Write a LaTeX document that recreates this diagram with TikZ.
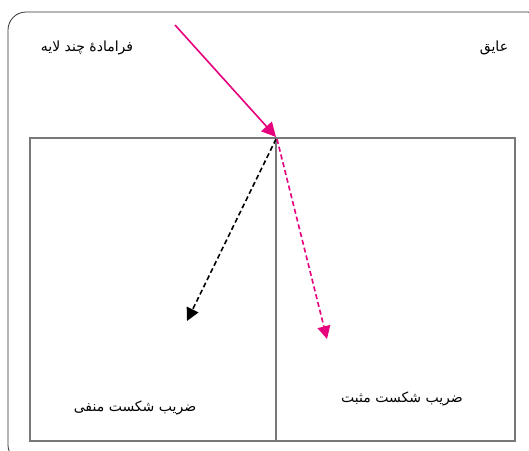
\documentclass[tikz,border=0pt]{standalone}
\usepackage{fontspec}
\newfontfamily\arabicfont[Script=Arabic]{DejaVu Sans}
\TeXXeTstate=1
\definecolor{LensPink}{RGB}{230,0,126}
\definecolor{FrameGray}{RGB}{120,120,120}
\usetikzlibrary{arrows.meta,positioning,calc}

\begin{document}
\begin{tikzpicture}[
  x=1pt, y=-1pt,
  label/.style={font=\arabicfont\fontsize{14}{16}\selectfont, inner sep=1pt},
  frame/.style={draw=FrameGray, line width=1.2pt},
  incident/.style={-{Triangle[length=5mm,width=5mm]}, LensPink, line width=1.6pt},
  refracted/.style={-{Triangle[length=4.5mm,width=4.5mm]}, line width=1.6pt, dash pattern=on 5pt off 3pt}
]
\useasboundingbox (0,0) rectangle (529,450);
\begin{scope}
\clip (0,0) rectangle (529,450);
% outer frame
\draw[black!80, line width=0.8pt, rounded corners=18pt] (8,12) rectangle (545,463);
\end{scope}
% the two media
\draw[frame] (30,138) rectangle (515,441);
\coordinate (hit) at (276,137);
\coordinate (hitb) at (276,441);
\draw[frame] (hit) -- (hitb);
% rays
\coordinate (src) at (175,25);
\coordinate (neg) at (187,321);
\coordinate (pos) at (327,339);
\draw[incident] (src) -- (hit);
\draw[refracted, black] ($(hit)+(0,2)$) -- (neg);
\draw[refracted, LensPink] ($(hit)+(1,2)$) -- (pos);
% texts
\node[label] (meta) at (87,48) {\beginR فرامادهٔ چند لایه\endR};
\node[label] (insul) at (494,48) {\beginR عایق\endR};
\node[label] (negidx) at (135,408) {\beginR ضریب شکست منفی\endR};
\node[label] (posidx) at (402,399) {\beginR ضریب شکست مثبت\endR};
\end{tikzpicture}
\end{document}
